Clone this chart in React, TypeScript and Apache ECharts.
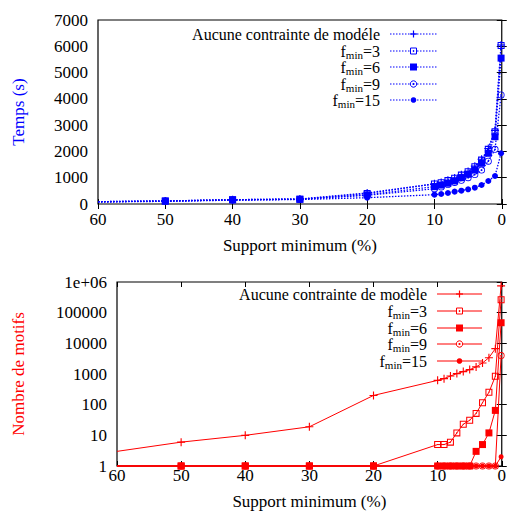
import React, { useEffect, useRef } from 'react';
import * as echarts from 'echarts';

const supports = [60, 50, 40, 30, 20, 10, 9, 8, 7, 6, 5, 4, 3, 2, 1, 0.1];
const xTicks = [60, 50, 40, 30, 20, 10, 0];

const topNames = ['Aucune contrainte de modéle', 'f_min=3', 'f_min=6', 'f_min=9', 'f_min=15'];
const bottomNames = ['Aucune contrainte de modèle', 'f_min=3', 'f_min=6', 'f_min=9', 'f_min=15'];

const timeAucune = [90, 115, 165, 190, 420, 770, 820, 900, 990, 1110, 1240, 1440, 1700, 2110, 2800, 6050];
const timeF3 = [90, 115, 165, 185, 400, 760, 810, 890, 980, 1100, 1230, 1420, 1670, 2080, 2750, 6030];
const timeF6 = [85, 110, 160, 180, 350, 660, 720, 790, 875, 1000, 1130, 1290, 1550, 1930, 2560, 5550];
const timeF9 = [85, 110, 155, 180, 330, 580, 650, 740, 820, 900, 1000, 1120, 1290, 1630, 2080, 4150];
const timeF15 = [80, 100, 145, 170, 240, 355, 380, 418, 470, 507, 558, 620, 722, 875, 1065, 1930];

const countAucune = [3, 6, 10, 19, 200, 620, 705, 860, 1030, 1200, 1390, 1700, 2290, 3400, 6700, 750000];
const countF3 = [1, 1, 1, 1, 1, 5, 5, 6, 12, 23, 31, 52, 116, 253, 840, 265000];
const countF6 = [1, 1, 1, 1, 1, 1, 1, 1, 1, 1, 1, 3, 5, 12, 65, 47000];
const countF9 = [1, 1, 1, 1, 1, 1, 1, 1, 1, 1, 1, 1, 1, 1, 1, 4000];
const countF15 = [1, 1, 1, 1, 1, 1, 1, 1, 1, 1, 1, 1, 1, 1, 1, 2];

const timeSeries = [timeAucune, timeF3, timeF6, timeF9, timeF15];
const countSeries = [countAucune, countF3, countF6, countF9, countF15];

const FONT = "'Liberation Serif', 'Times New Roman', serif";
const FS = 17;
const LFS = 16;
const BLUE = '#0000ff';
const RED = '#ff0000';

const plusPath = 'path://M4.3,0H5.7V4.3H10V5.7H5.7V10H4.3V5.7H0V4.3H4.3Z';
const sqOpenPath = 'path://M0,0H10V10H0Z M1.5,1.5V8.5H8.5V1.5Z M4.2,4.2H5.8V5.8H4.2Z';
const circDotPath =
  'path://M5,0A5,5 0 1,1 5,10A5,5 0 1,1 5,0Z M5,1.2A3.8,3.8 0 1,0 5,8.8A3.8,3.8 0 1,0 5,1.2Z M5,3.7A1.3,1.3 0 1,1 5,6.3A1.3,1.3 0 1,1 5,3.7Z';
const symbols = [plusPath, sqOpenPath, 'rect', circDotPath, 'circle'];
const topSizes = [8, 7, 7, 7, 6];
const bottomSizes = [8, 7, 7, 7, 5];
const markerKinds = ['plus', 'sqOpen', 'sqFill', 'circDot', 'circFill'];

function legendText(name: string) {
  if (name.startsWith('f_min=')) {
    return '{n|f}{s|min}{n|' + name.slice(5) + '}';
  }
  return '{n|' + name + '}';
}

function marker(kind: string, x: number, y: number, color: string): any[] {
  switch (kind) {
    case 'plus':
      return [
        { type: 'line', shape: { x1: x - 3.5, y1: y, x2: x + 3.5, y2: y }, style: { stroke: color, lineWidth: 1.2 } },
        { type: 'line', shape: { x1: x, y1: y - 3.5, x2: x, y2: y + 3.5 }, style: { stroke: color, lineWidth: 1.2 } },
      ];
    case 'sqOpen':
      return [
        { type: 'rect', shape: { x: x - 3, y: y - 3, width: 6, height: 6 }, style: { stroke: color, fill: '#fff', lineWidth: 1 } },
        { type: 'circle', shape: { cx: x, cy: y, r: 0.8 }, style: { fill: color } },
      ];
    case 'sqFill':
      return [{ type: 'rect', shape: { x: x - 3.5, y: y - 3.5, width: 7, height: 7 }, style: { fill: color } }];
    case 'circDot':
      return [
        { type: 'circle', shape: { cx: x, cy: y, r: 3.2 }, style: { stroke: color, fill: '#fff', lineWidth: 1 } },
        { type: 'circle', shape: { cx: x, cy: y, r: 1.1 }, style: { fill: color } },
      ];
    default:
      return [{ type: 'circle', shape: { cx: x, cy: y, r: 2.8 }, style: { fill: color } }];
  }
}

function legendGraphics(
  names: string[],
  textRight: number,
  lineX1: number,
  lineX2: number,
  rows: number[],
  color: string,
  dashed: boolean
): any[] {
  const out: any[] = [];
  names.forEach((name, i) => {
    const y = rows[i];
    out.push({
      type: 'text',
      x: textRight,
      y: y,
      style: {
        text: legendText(name),
        align: 'right',
        verticalAlign: 'middle',
        rich: {
          n: { fontFamily: FONT, fontSize: LFS, fill: '#000', lineHeight: 14 },
          s: { fontFamily: FONT, fontSize: 11, fill: '#000', lineHeight: 9, padding: [7, 0, 0, 0] },
        },
      },
    });
    out.push({
      type: 'line',
      shape: { x1: lineX1, y1: y, x2: lineX2, y2: y },
      style: dashed
        ? { stroke: color, lineWidth: 1.2, lineDash: [1.5, 1.5] }
        : { stroke: color, lineWidth: 1 },
    });
    out.push(...marker(markerKinds[i], (lineX1 + lineX2) / 2, y, color));
  });
  return out;
}

const labelStyle = { fontFamily: FONT, fontSize: FS, color: '#000' };

function xAxisDef(gridIndex: number, mirror: boolean, margin: number, nameGap: number) {
  return {
    type: 'value',
    gridIndex,
    position: mirror ? 'top' : 'bottom',
    min: 0,
    max: 60,
    interval: 10,
    inverse: true,
    name: mirror ? '' : 'Support minimum (%)',
    nameLocation: 'middle',
    nameGap,
    nameTextStyle: { fontFamily: FONT, fontSize: FS, color: '#000' },
    axisLine: { show: false },
    splitLine: { show: false },
    axisTick: { show: true, inside: true, length: 5, lineStyle: { color: '#000', width: 1 } },
    axisLabel: { show: !mirror, margin, ...labelStyle, formatter: (v: number) => (xTicks.includes(v) ? String(v) : '') },
  };
}

const option: any = {
  animation: false,
  backgroundColor: '#fff',
  textStyle: { fontFamily: FONT },
  grid: [
    { left: 98, top: 20, width: 404, height: 184, show: true, borderColor: '#000', borderWidth: 1.2, backgroundColor: 'transparent' },
    { left: 117, top: 282, width: 385, height: 184, show: true, borderColor: '#000', borderWidth: 1.2, backgroundColor: 'transparent' },
  ],
  xAxis: [xAxisDef(0, false, 7, 33), xAxisDef(0, true, 7, 0), xAxisDef(1, false, 1, 27), xAxisDef(1, true, 1, 0)],
  yAxis: [
    {
      type: 'value',
      gridIndex: 0,
      position: 'left',
      min: 0,
      max: 7000,
      interval: 1000,
      name: 'Temps (s)',
      nameLocation: 'middle',
      nameGap: 71,
      nameTextStyle: { fontFamily: FONT, fontSize: FS, color: BLUE },
      axisLine: { show: false },
      splitLine: { show: false },
      axisTick: { show: true, inside: true, length: 5, lineStyle: { color: '#000' } },
      axisLabel: { margin: 10, ...labelStyle, formatter: (v: number) => String(v) },
    },
    {
      type: 'value',
      gridIndex: 0,
      position: 'right',
      min: 0,
      max: 7000,
      interval: 1000,
      axisLine: { show: false },
      splitLine: { show: false },
      axisTick: { show: true, inside: true, length: 5, lineStyle: { color: '#000' } },
      axisLabel: { show: false },
    },
    {
      type: 'log',
      logBase: 10,
      gridIndex: 1,
      position: 'left',
      min: 1,
      max: 1000000,
      name: 'Nombre de motifs',
      nameLocation: 'middle',
      nameGap: 90,
      nameTextStyle: { fontFamily: FONT, fontSize: FS, color: RED },
      axisLine: { show: false },
      splitLine: { show: false },
      axisTick: { show: true, inside: true, length: 5, lineStyle: { color: '#000' } },
      axisLabel: {
        margin: 10,
        ...labelStyle,
        formatter: (v: number) => (v >= 1000000 ? '1e+06' : String(Math.round(v))),
      },
    },
    {
      type: 'log',
      logBase: 10,
      gridIndex: 1,
      position: 'right',
      min: 1,
      max: 1000000,
      axisLine: { show: false },
      splitLine: { show: false },
      axisTick: { show: true, inside: true, length: 5, lineStyle: { color: '#000' } },
      axisLabel: { show: false },
    },
  ],
  series: [
    ...timeSeries.map((vals, i) => ({
      type: 'line',
      name: topNames[i],
      xAxisIndex: 0,
      yAxisIndex: 0,
      data: supports.map((s, j) => (j === 0 ? { value: [s, vals[j]], symbol: 'none' } : [s, vals[j]])),
      symbol: symbols[i],
      symbolSize: topSizes[i],
      showAllSymbol: true,
      clip: false,
      lineStyle: { color: BLUE, width: 1.3, type: [1.5, 1.5] },
      itemStyle: { color: BLUE },
      z: 10 - i,
    })),
    ...countSeries.map((vals, i) => ({
      type: 'line',
      name: bottomNames[i],
      xAxisIndex: 2,
      yAxisIndex: 2,
      data: supports.map((s, j) => (j === 0 ? { value: [s, vals[j]], symbol: 'none' } : [s, vals[j]])),
      symbol: symbols[i],
      symbolSize: bottomSizes[i],
      showAllSymbol: true,
      clip: false,
      lineStyle: { color: RED, width: 1 },
      itemStyle: { color: RED },
      z: 10 - i,
    })),
  ],
  graphic: [
    ...legendGraphics(topNames, 380, 390, 437, [34, 51, 67, 84, 100], BLUE, true),
    ...legendGraphics(bottomNames, 427, 437, 482, [294, 311, 328, 344, 361], RED, false),
  ],
};

export default function App() {
  const ref = useRef<HTMLDivElement>(null);
  useEffect(() => {
    const chart = echarts.init(ref.current!, null, { renderer: 'svg' });
    chart.setOption(option);
    return () => chart.dispose();
  }, []);
  return <div ref={ref} style={{ position: 'absolute', left: 0, top: 0, width: 509, height: 517 }} />;
}
